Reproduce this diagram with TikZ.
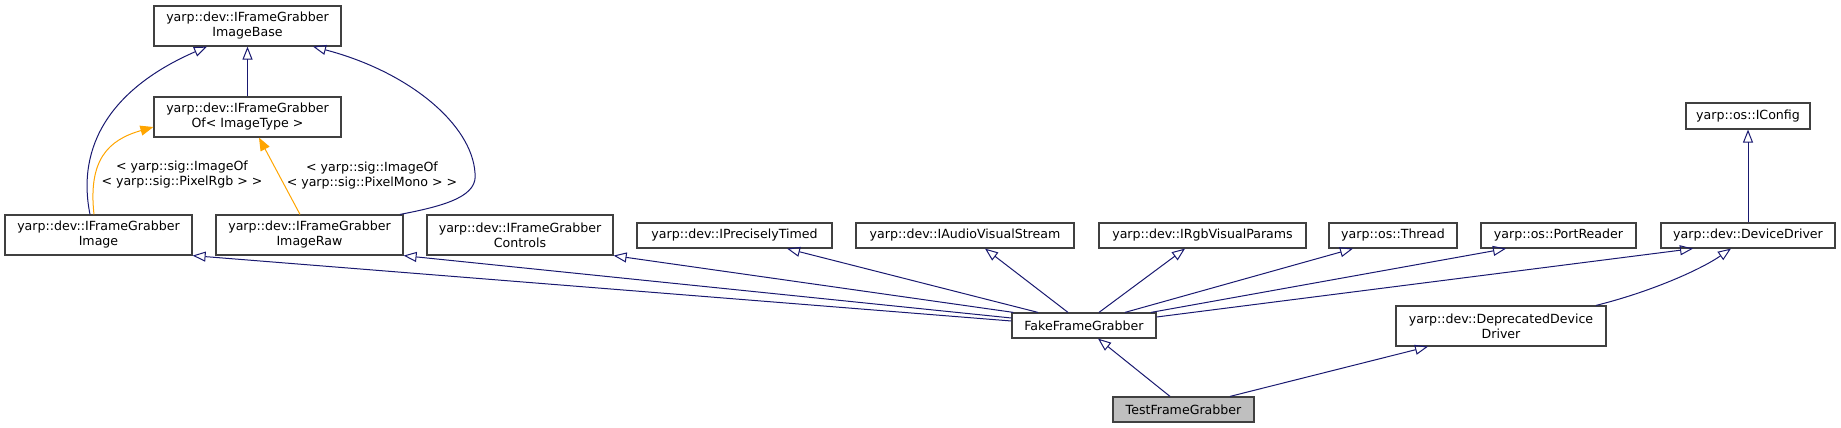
\documentclass[tikz,border=0pt]{standalone}
\usepackage{fontspec}
\setmainfont{DejaVu Sans}
\usetikzlibrary{arrows.meta,calc}
\definecolor{edgeblue}{HTML}{191970}
\definecolor{tplorange}{HTML}{FFA500}
\definecolor{boxline}{HTML}{404040}
\definecolor{leaffill}{HTML}{BFBFBF}
\begin{document}
\begin{tikzpicture}[x=0.75pt,y=-0.75pt,
  cls/.style={draw=boxline, line width=0.9pt, fill=white, inner sep=0pt, align=center,
    font=\fontsize{9.45}{11.25}\selectfont},
  two/.style={minimum height=30pt},
  one/.style={minimum height=18.75pt},
  inh/.style={draw=edgeblue, line width=0.75pt, -{Triangle[open, length=9.75pt, width=7.5pt]}},
  tpl/.style={draw=tplorange, line width=0.75pt, -{Triangle[length=9.75pt, width=7.5pt, fill=tplorange]}},
  lbl/.style={inner sep=0pt, align=center, font=\fontsize{9.45}{11.25}\selectfont}]
\useasboundingbox (0,0) rectangle (1841,428);
% nodes
\node[cls, two, minimum width=140.25pt] (ibase) at (247.5,26) {yarp::dev::IFrameGrabber\\ImageBase};
\node[cls, two, minimum width=140.25pt] (fgof) at (247.5,117) {yarp::dev::IFrameGrabber\\Of< ImageType >};
\node[cls, two, minimum width=140.25pt] (img) at (98.5,235) {yarp::dev::IFrameGrabber\\Image};
\node[cls, two, minimum width=140.25pt] (raw) at (309.5,235) {yarp::dev::IFrameGrabber\\ImageRaw};
\node[cls, two, minimum width=139.5pt] (ctrl) at (520,235) {yarp::dev::IFrameGrabber\\Controls};
\node[cls, one, minimum width=146.25pt] (ipt) at (734.5,235.5) {yarp::dev::IPreciselyTimed};
\node[cls, one, minimum width=163.5pt] (iavs) at (965,235.5) {yarp::dev::IAudioVisualStream};
\node[cls, one, minimum width=155.25pt] (irgb) at (1202.5,235.5) {yarp::dev::IRgbVisualParams};
\node[cls, one, minimum width=96pt] (thr) at (1393,235.5) {yarp::os::Thread};
\node[cls, one, minimum width=116.25pt] (prd) at (1558.5,235.5) {yarp::os::PortReader};
\node[cls, one, minimum width=130.5pt] (dd) at (1748,235.5) {yarp::dev::DeviceDriver};
\node[cls, minimum height=19.5pt, minimum width=93pt] (icfg) at (1748,116) {yarp::os::IConfig};
\node[cls, one, minimum width=108pt] (fake) at (1084,325.5) {FakeFrameGrabber};
\node[cls, two, minimum width=157.5pt] (dep) at (1501,326) {yarp::dev::DeprecatedDevice\\Driver};
\node[cls, one, minimum width=105.75pt, fill=leaffill] (test) at (1183.5,409.5) {TestFrameGrabber};
% template labels
\node[lbl] (lrgb) at (182,174.5) {< yarp::sig::ImageOf\\< yarp::sig::PixelRgb > >};
\node[lbl] (lmono) at (372,175.5) {< yarp::sig::ImageOf\\< yarp::sig::PixelMono > >};
% edges in upper part
\draw[inh] (fgof.north) -- (ibase.south);
\draw[inh] ($(img.north)+(-8.5,0)$) .. controls (76,145) and (112,88) .. ($(ibase.south)+(-40.5,0)$);
\draw[inh] ($(raw.north)+(90.5,0)$) .. controls (450,205) and (478,195) .. (475,173)
   .. controls (472,125) and (410,72) .. ($(ibase.south)+(65.5,0)$);
\draw[tpl] ($(img.north)+(-4.5,0)$) .. controls (88,160) and (108,140) .. ($(fgof.west)+(0,10)$);
\draw[tpl] ($(raw.north)+(-9.5,0)$) -- ($(fgof.south)+(11.5,0)$);
% edges from FakeFrameGrabber
\draw[inh] ($(fake.west)+(0,-4.5)$) -- (img.south east);
\draw[inh] ($(fake.west)+(0,-7.5)$) -- (raw.south east);
\draw[inh] ($(fake.north west)+(2,0)$) -- (ctrl.south east);
\draw[inh] ($(fake.north)+(-46,0)$) -- ($(ipt.south)+(52.5,0)$);
\draw[inh] ($(fake.north)+(-16,0)$) -- ($(iavs.south)+(20,0)$);
\draw[inh] ($(fake.north)+(15,0)$) -- ($(irgb.south)+(-17.5,0)$);
\draw[inh] ($(fake.north)+(41,0)$) -- ($(thr.south)+(-40,0)$);
\draw[inh] ($(fake.north)+(67,0)$) -- ($(prd.south)+(-52.5,0)$);
\draw[inh] ($(fake.east)+(0,-8.5)$) -- ($(dd.south)+(-55,0)$);
% right part
\draw[inh] (dd.north) -- (icfg.south);
\draw[inh] ($(dep.north)+(95,0)$) .. controls (1650,292) and (1700,270) .. ($(dd.south)+(-17,0)$);
% TestFrameGrabber
\draw[inh] ($(test.north)+(-13.5,0)$) -- ($(fake.south)+(14,0)$);
\draw[inh] ($(test.north)+(46.5,0)$) -- ($(dep.south)+(-73,0)$);
\end{tikzpicture}
\end{document}
